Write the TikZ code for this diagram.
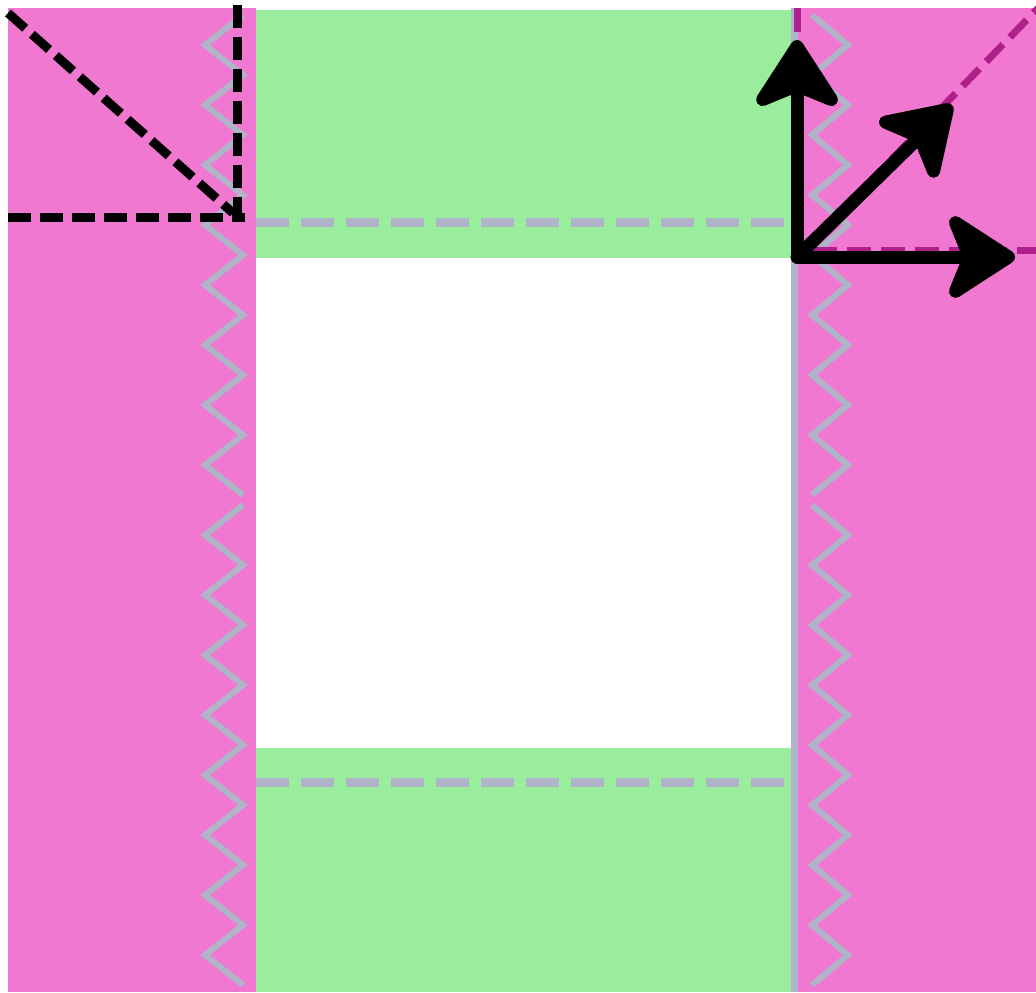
\documentclass[tikz,border=0pt]{standalone}
\usetikzlibrary{arrows.meta}
\definecolor{pinkfill}{RGB}{240,120,208}
\definecolor{greenfill}{RGB}{154,237,156}
\definecolor{zzgray}{RGB}{176,180,200}
\definecolor{purpdash}{RGB}{176,32,140}
\begin{document}
\begin{tikzpicture}[x=0.5pt,y=-0.5pt,
  zz/.style={draw=zzgray, line width=3pt},
  graydash/.style={draw=zzgray, line width=4.5pt, dash pattern=on 16.5pt off 6pt},
  blackdash/.style={draw=black, line width=4.5pt, dash pattern=on 11.5pt off 4.5pt},
  purpledash/.style={draw=purpdash, line width=3.5pt, dash pattern=on 12pt off 5pt},
  axisarrow/.style={draw=black, line width=6.5pt, line join=round, -{Stealth[length=39pt,width=50pt,inset=10pt,round]}},
  axisboth/.style={draw=black, line width=6.5pt, line join=round,
    {Stealth[length=39pt,width=50pt,inset=10pt,round]}-{Stealth[length=39pt,width=50pt,inset=10pt,round]}}]
\useasboundingbox (0,0) rectangle (1036,992);
\fill[white] (0,0) rectangle (1036,992);
% panels
\fill[pinkfill] (8,8) rectangle (256,992);
\fill[pinkfill] (797,8) rectangle (1036,992);
\fill[greenfill] (256,10) rectangle (792,258);
\fill[greenfill] (256,748) rectangle (792,992);
% zigzags
\draw[zz] (243,15) \foreach \i in {1,...,16}{ -- ({ifthenelse(isodd(\i),205,243)},{15+30*\i}) };
\draw[zz] (243,505) \foreach \i in {1,...,16}{ -- ({ifthenelse(isodd(\i),205,243)},{505+30*\i}) };
\draw[zz] (812,15) \foreach \i in {1,...,16}{ -- ({ifthenelse(isodd(\i),848,812)},{15+30*\i}) };
\draw[zz] (812,505) \foreach \i in {1,...,16}{ -- ({ifthenelse(isodd(\i),848,812)},{505+30*\i}) };
% gray vertical line
\draw[zzgray, line width=3.5pt] (794,8) -- (794,992);
% gray dashed
\draw[graydash] (256,222) -- (792,222);
\draw[graydash] (256,782) -- (792,782);
% black dashed
\coordinate (bc) at (237,217);
\draw[blackdash] (8,217) -- (245,217);
\draw[blackdash] (237,5) -- (bc);
\draw[blackdash] (8,13) -- (233,213);
% purple dashed
\coordinate (O) at (797,257);
\draw[purpledash] (797,8) -- (O);
\draw[purpledash] (813,250) -- (1036,250);
\draw[purpledash] (O) -- (1046,0);
% axes arrows
\coordinate (up) at (797,40);
\coordinate (rt) at (1015,257);
\coordinate (dg) at (952,105);
\draw[axisboth] (up) -- (O) -- (rt);
\draw[axisarrow, line cap=round] (O) -- (dg);
\end{tikzpicture}
\end{document}
